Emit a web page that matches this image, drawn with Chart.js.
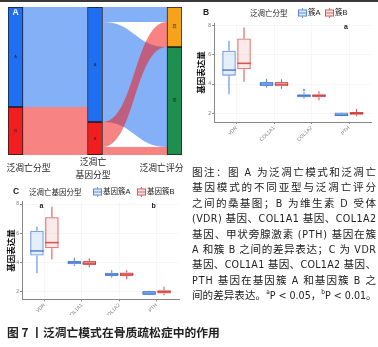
<!DOCTYPE html>
<html lang="zh-CN">
<head>
<meta charset="utf-8">
<script src="https://cdn.jsdelivr.net/npm/chart.js@4/dist/chart.umd.min.js"></script>
<style>
html,body{margin:0;padding:0;background:#fff;}
body{width:378px;height:347px;position:relative;overflow:hidden;font-family:"Noto Sans CJK SC",sans-serif;}
#topline{position:absolute;left:0;top:0;width:378px;height:2px;background:#3a3a3a;}
canvas{position:absolute;}
#cA{left:0;top:0;}
#cB{left:190px;top:0;}
#cC{left:0;top:180px;}
#caption{position:absolute;left:192px;top:165px;width:186px;font-size:10.6px;line-height:15.4px;color:#222;font-family:"Liberation Sans Narrow","DejaVu Sans Condensed",Lato,"Noto Sans CJK SC",sans-serif;}
#caption div{white-space:nowrap;}
#caption sup{font-size:6.5px;vertical-align:5px;line-height:0;}
#title{position:absolute;left:7px;top:323px;font-size:11.8px;font-weight:bold;color:#222;line-height:17px;white-space:nowrap;font-family:"Noto Sans CJK SC",sans-serif;}
</style>
</head>
<body>
<div id="topline"></div>
<canvas id="cA" width="190" height="185"></canvas>
<canvas id="cB" width="188" height="150"></canvas>
<canvas id="cC" width="190" height="135"></canvas>
<div id="caption">
<div class="fit"><span>图注：图 A 为泛凋亡模式和泛凋亡</span></div>
<div class="fit"><span>基因模式的不同亚型与泛凋亡评分</span></div>
<div class="fit"><span>之间的桑基图；B 为维生素 D 受体</span></div>
<div class="fit"><span>(VDR) 基因、COL1A1 基因、COL1A2</span></div>
<div class="fit"><span>基因、甲状旁腺激素 (PTH) 基因在簇</span></div>
<div class="fit"><span>A 和簇 B 之间的差异表达；C 为 VDR</span></div>
<div class="fit"><span>基因、COL1A1 基因、COL1A2 基因、</span></div>
<div class="fit"><span>PTH 基因在基因簇 A 和基因簇 B 之</span></div>
<div><span>间的差异表达。<sup>a</sup>P &lt; 0.05，<sup>b</sup>P &lt; 0.01。</span></div>
</div>
<div id="title">图 7 丨泛凋亡模式在骨质疏松症中的作用</div>
<script>
// ---------- Sankey data (panel A) ----------
const sankeyAxes = ['泛凋亡分型', ['泛凋亡', '基因分型'], '泛凋亡评分'];
const typeNodes = ['A', 'B'];        // 泛凋亡分型
const geneNodes = ['A', 'B'];        // 泛凋亡基因分型
const scoreNodes = ['高', '低'];     // 泛凋亡评分
// rows = source node, columns = target node
const flowTypeToGene = [[100, 0], [15, 33]];
const flowGeneToScore = [[15, 100], [25, 8]];

// ---------- Box plot data (panels B, C) ----------
const genes = ['VDR', 'COL1A1', 'COL1A2', 'PTH'];
const yTicks = [2, 4, 6, 8];
// each entry: [min, q1, median, q3, max]
const clusterA = [[3.30, 4.57, 4.95, 6.27, 6.95], [3.77, 3.86, 4.00, 4.14, 4.36], [3.00, 3.09, 3.20, 3.30, 3.43], [1.80, 1.82, 1.89, 2.05, 2.07]];
const clusterB = [[4.16, 5.00, 5.41, 7.11, 7.86], [3.68, 3.84, 3.98, 4.14, 4.32], [2.89, 3.09, 3.20, 3.30, 3.50], [1.80, 1.91, 2.00, 2.09, 2.30]];
const clusterAOutliers = [[], [], [3.59], []];
const clusterBOutliers = [[], [], [], []];
const clusterMarks = ['', '', '', 'a'];
const geneClusterA = [[3.26, 4.47, 4.79, 6.18, 6.45], [3.76, 3.88, 3.99, 4.10, 4.33], [2.96, 3.07, 3.19, 3.30, 3.49], [1.77, 1.78, 1.91, 2.05, 2.07]];
const geneClusterB = [[4.22, 4.97, 5.36, 7.10, 7.82], [3.65, 3.82, 3.95, 4.10, 4.29], [2.85, 3.07, 3.20, 3.32, 3.47], [1.75, 1.88, 2.00, 2.10, 2.34]];
const geneClusterAOutliers = [[], [], [], []];
const geneClusterBOutliers = [[], [], [], []];
const geneClusterMarks = ['a', '', '', 'b'];

Chart.defaults.font.family = '"Liberation Sans","Noto Sans CJK SC",sans-serif';
Chart.defaults.animation = false;

const sum = a => a.reduce((s, v) => s + v, 0);
const starts = tot => { let s = 0; return tot.map(t => { const r = s; s += t; return r; }); };

// ---------- Panel A: Sankey ----------
const typeTot = flowTypeToGene.map(r => sum(r));
const geneTot = flowTypeToGene[0].map((_, j) => sum(flowTypeToGene.map(r => r[j])));
const scoreTot = flowGeneToScore[0].map((_, j) => sum(flowGeneToScore.map(r => r[j])));
const colBlue = [31, 111, 242], colRed = [240, 30, 30], colOrange = [247, 162, 27], colGreen = [31, 143, 79];
const rgb = c => `rgb(${c[0]},${c[1]},${c[2]})`;
const rgba = (c, a) => `rgba(${c[0]},${c[1]},${c[2]},${a})`;
const columns = [
  {nodes: typeNodes, tot: typeTot, colors: [colBlue, colRed]},
  {nodes: geneNodes, tot: geneTot, colors: [colBlue, colRed]},
  {nodes: scoreNodes, tot: scoreTot, colors: [colOrange, colGreen]}
];
const NODE_W = 15;
const sankeyDatasets = [];
columns.forEach((col, ci) => {
  const st = starts(col.tot);
  col.nodes.forEach((n, ni) => {
    sankeyDatasets.push({
      label: n,
      data: [{x: ci, y: [st[ni], st[ni] + col.tot[ni]]}],
      backgroundColor: rgb(col.colors[ni]),
      borderColor: '#1b1b1b',
      borderWidth: 1,
      borderSkipped: false,
      grouped: false,
      barThickness: NODE_W
    });
  });
});

const sankeyPlugin = {
  id: 'sankeyFlows',
  beforeDatasetsDraw(chart) {
    const ctx = chart.ctx, xs = chart.scales.x, ys = chart.scales.y;
    ctx.save();
    [[flowTypeToGene, columns[0].colors, 0], [flowGeneToScore, columns[1].colors, 1]].forEach(([M, colors, c]) => {
      const srcStart = starts(M.map(r => sum(r)));
      const tgtStart = starts(M[0].map((_, j) => sum(M.map(r => r[j]))));
      const x0 = xs.getPixelForValue(c) + NODE_W / 2, x1 = xs.getPixelForValue(c + 1) - NODE_W / 2, xm = (x0 + x1) / 2;
      M.forEach((row, i) => row.forEach((v, j) => {
        if (!v) return;
        const s0 = srcStart[i] + sum(row.slice(0, j));
        const t0 = tgtStart[j] + sum(M.slice(0, i).map(r => r[j]));
        const a0 = ys.getPixelForValue(s0), a1 = ys.getPixelForValue(s0 + v);
        const b0 = ys.getPixelForValue(t0), b1 = ys.getPixelForValue(t0 + v);
        ctx.beginPath();
        ctx.moveTo(x0, a0);
        ctx.bezierCurveTo(xm, a0, xm, b0, x1, b0);
        ctx.lineTo(x1, b1);
        ctx.bezierCurveTo(xm, b1, xm, a1, x0, a1);
        ctx.closePath();
        ctx.fillStyle = rgba(colors[i], 0.55);
        ctx.fill();
      }));
    });
    ctx.restore();
  },
  afterDatasetsDraw(chart) {
    const ctx = chart.ctx, xs = chart.scales.x, ys = chart.scales.y, area = chart.chartArea;
    ctx.save();
    ctx.font = '4px "Liberation Sans","Noto Sans CJK SC"';
    ctx.fillStyle = '#222';
    ctx.textAlign = 'center';
    ctx.textBaseline = 'middle';
    columns.forEach((col, ci) => {
      const st = starts(col.tot);
      col.nodes.forEach((n, ni) => {
        ctx.fillText(n, xs.getPixelForValue(ci), ys.getPixelForValue(st[ni] + col.tot[ni] / 2));
      });
    });
    ctx.font = 'bold 8.5px "Liberation Sans"';
    ctx.fillStyle = '#fff';
    ctx.fillText('A', xs.getPixelForValue(0), area.top + 6);
    ctx.font = '8.8px "Noto Sans CJK SC"';
    ctx.fillStyle = '#1e1e1e';
    const shift = [13, -2, -13];
    sankeyAxes.forEach((lab, i) => {
      const x = xs.getPixelForValue(i) + shift[i];
      if (Array.isArray(lab)) {
        lab.forEach((l, k) => ctx.fillText(l, x, area.bottom + 7 + k * 12.5));
      } else {
        ctx.fillText(lab, x, area.bottom + 13);
      }
    });
    ctx.restore();
  }
};

new Chart(document.getElementById('cA'), {
  type: 'bar',
  data: {datasets: sankeyDatasets},
  options: {
    responsive: false,
    layout: {padding: {left: 8, right: 8, top: 7, bottom: 30}},
    plugins: {legend: {display: false}, tooltip: {enabled: false}},
    scales: {
      x: {type: 'linear', display: false, offset: false, min: -0.0943, max: 2.0943},
      y: {type: 'linear', display: false, min: 0, max: 148, reverse: true}
    }
  },
  plugins: [sankeyPlugin]
});

// ---------- Panels B & C: box plots ----------
const BLUE_LINE = 'rgba(48,108,210,0.78)', BLUE_FILL = 'rgba(80,140,230,0.15)';
const RED_LINE = 'rgba(205,45,45,0.78)', RED_FILL = 'rgba(230,80,80,0.12)';

function drawKey(ctx, x, yc, line, fill) {
  const w = 9, h = 7;
  ctx.fillStyle = fill;
  ctx.fillRect(x, yc - h / 2, w, h);
  ctx.strokeStyle = line;
  ctx.lineWidth = 1;
  ctx.strokeRect(x + 0.5, yc - h / 2 + 0.5, w - 1, h - 1);
  ctx.beginPath();
  ctx.moveTo(x + 1, yc); ctx.lineTo(x + w - 1, yc);
  ctx.moveTo(x + w / 2, yc - h / 2 - 1.5); ctx.lineTo(x + w / 2, yc - h / 2);
  ctx.moveTo(x + w / 2, yc + h / 2); ctx.lineTo(x + w / 2, yc + h / 2 + 1.5);
  ctx.stroke();
}

function boxChart(cfg) {
  const stats = [cfg.a, cfg.b];
  const outs = [cfg.aOut, cfg.bOut];
  const plugin = {
    id: 'boxParts',
    afterDatasetsDraw(chart) {
      const ctx = chart.ctx, ys = chart.scales.y, xs = chart.scales.x;
      ctx.save();
      [0, 1].forEach(di => {
        const meta = chart.getDatasetMeta(di);
        const line = di === 0 ? BLUE_LINE : RED_LINE;
        meta.data.forEach((el, j) => {
          const s = stats[di][j];
          const x = el.x, hw = el.width / 2;
          ctx.strokeStyle = line;
          ctx.lineWidth = 1.1;
          ctx.beginPath();
          ctx.moveTo(x, ys.getPixelForValue(s[3])); ctx.lineTo(x, ys.getPixelForValue(s[4]));
          ctx.moveTo(x, ys.getPixelForValue(s[1])); ctx.lineTo(x, ys.getPixelForValue(s[0]));
          ctx.stroke();
          ctx.lineWidth = 1.6;
          ctx.beginPath();
          ctx.moveTo(x - hw, ys.getPixelForValue(s[2])); ctx.lineTo(x + hw, ys.getPixelForValue(s[2]));
          ctx.stroke();
          ctx.fillStyle = line;
          outs[di][j].forEach(v => {
            ctx.beginPath(); ctx.arc(x, ys.getPixelForValue(v), 1.1, 0, Math.PI * 2); ctx.fill();
          });
        });
      });
      ctx.font = 'bold 7px "Liberation Sans"';
      ctx.fillStyle = '#222';
      ctx.textAlign = 'center';
      ctx.textBaseline = 'middle';
      cfg.marks.forEach((m, i) => {
        if (m) ctx.fillText(m, xs.getPixelForValue(i) - 3, ys.getPixelForValue(7.85));
      });
      const L = cfg.legend;
      ctx.textAlign = 'left';
      ctx.font = 'bold 8.5px "Liberation Sans"';
      ctx.fillStyle = '#222';
      ctx.fillText(cfg.letter, L.letterX, L.y);
      ctx.font = '7.5px "Noto Sans CJK SC"';
      ctx.fillText(cfg.legendTitle, L.titleX, L.y);
      drawKey(ctx, L.key1, L.y, BLUE_LINE, BLUE_FILL);
      drawKey(ctx, L.key2, L.y, RED_LINE, RED_FILL);
      ctx.fillStyle = '#222';
      ctx.font = '7.5px "Liberation Sans","Noto Sans CJK SC"';
      ctx.fillText(cfg.groups[0], L.key1 + 10, L.y);
      ctx.fillText(cfg.groups[1], L.key2 + 10, L.y);
      ctx.restore();
    }
  };
  const mk = (d) => d.map((s, i) => ({x: i, y: [s[1], s[3]]}));
  return new Chart(document.getElementById(cfg.id), {
    type: 'bar',
    data: {
      datasets: [
        {label: cfg.groups[0], data: mk(cfg.a), backgroundColor: BLUE_FILL, borderColor: BLUE_LINE, borderWidth: 1.1, borderSkipped: false, categoryPercentage: 0.8, barPercentage: 0.9},
        {label: cfg.groups[1], data: mk(cfg.b), backgroundColor: RED_FILL, borderColor: RED_LINE, borderWidth: 1.1, borderSkipped: false, categoryPercentage: 0.8, barPercentage: 0.9}
      ]
    },
    options: {
      responsive: false,
      layout: {padding: cfg.padding},
      plugins: {legend: {display: false}, tooltip: {enabled: false}},
      scales: {
        x: {
          type: 'linear', min: -0.6, max: 3.6, offset: false,
          afterBuildTicks: s => { s.ticks = genes.map((g, i) => ({value: i})); },
          afterFit: s => { s.height = cfg.xHeight; },
          ticks: {callback: v => genes[v], autoSkip: false, maxRotation: 45, minRotation: 45, font: {size: 5}, color: '#777', padding: 1},
          grid: {offset: false, color: 'rgba(0,0,0,0.035)', tickColor: '#888', tickLength: 2},
          border: {color: '#888', width: 1}
        },
        y: {
          type: 'linear', min: cfg.yMin, max: cfg.yMax,
          afterBuildTicks: s => { s.ticks = yTicks.map(v => ({value: v})); },
          afterFit: s => { s.width = cfg.yWidth; },
          ticks: {font: {size: 5}, color: '#777', padding: 1},
          grid: {color: 'rgba(0,0,0,0.035)', tickColor: '#888', tickLength: 2},
          border: {color: '#888', width: 1},
          title: {display: true, text: '基因表达量', color: '#111', font: {size: 8.5, weight: 'bold', family: '"Noto Sans CJK SC"'}, padding: {top: 6, bottom: 0}}
        }
      }
    },
    plugins: [plugin]
  });
}

boxChart({
  id: 'cB', a: clusterA, b: clusterB, aOut: clusterAOutliers, bOut: clusterBOutliers, marks: clusterMarks,
  groups: ['簇A', '簇B'], legendTitle: '泛凋亡分型', letter: 'B',
  legend: {letterX: 13, titleX: 60, key1: 108, key2: 135, y: 13},
  padding: {left: 0, right: 6.5, top: 23, bottom: 0}, yWidth: 24, xHeight: 28,
  yMin: 1.41, yMax: 8.16
});
boxChart({
  id: 'cC', a: geneClusterA, b: geneClusterB, aOut: geneClusterAOutliers, bOut: geneClusterBOutliers, marks: geneClusterMarks,
  groups: ['基因簇A', '基因簇B'], legendTitle: '泛凋亡基因分型', letter: 'C',
  legend: {letterX: 13, titleX: 29, key1: 93, key2: 137, y: 12},
  padding: {left: 0, right: 11, top: 21.7, bottom: 0}, yWidth: 22, xHeight: 15.7,
  yMin: 1.48, yMax: 8.16
});

function fitCaption() {
  document.querySelectorAll('#caption .fit span').forEach(span => {
    span.style.letterSpacing = '0px';
    const w = span.getBoundingClientRect().width;
    const n = span.textContent.length;
    span.style.letterSpacing = ((184 - w) / (n - 1)) + 'px';
  });
}
fitCaption();
if (document.fonts && document.fonts.ready) document.fonts.ready.then(fitCaption);
</script>
</body>
</html>
